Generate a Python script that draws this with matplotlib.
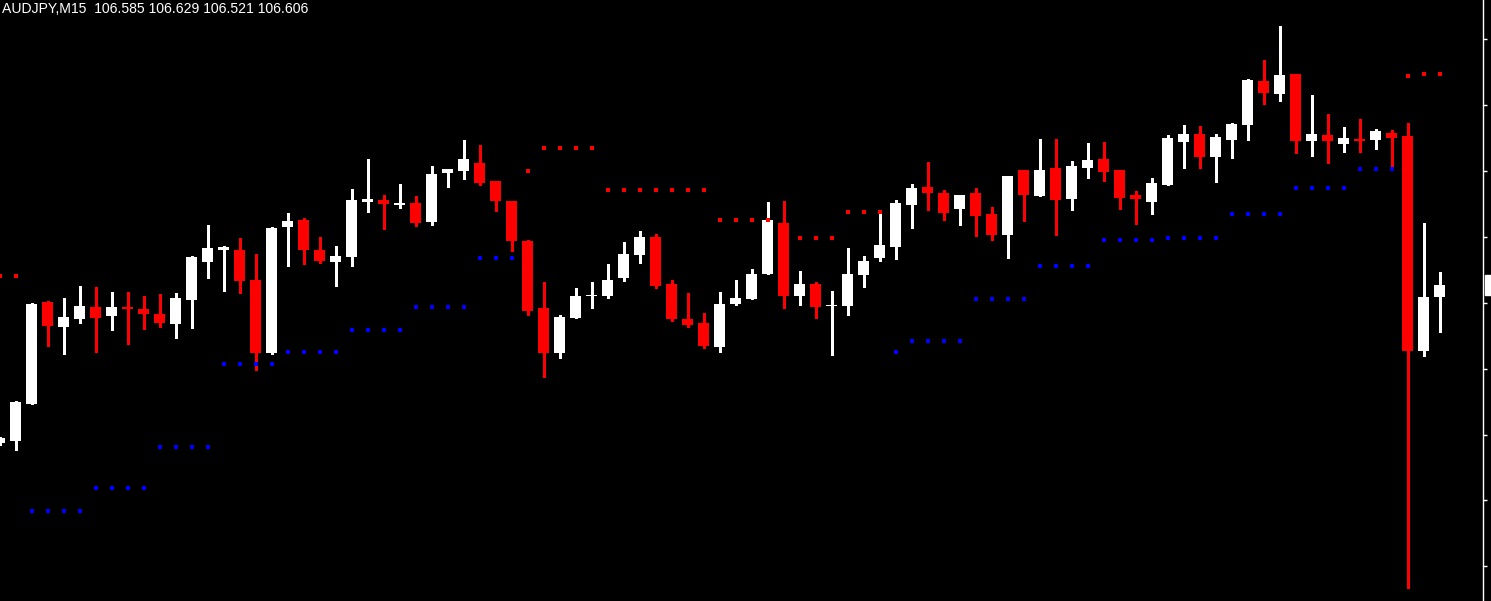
import numpy as np
import matplotlib.pyplot as plt

# --- dados: AUDJPY M15, 91 candles (o primeiro fica cortado na borda esquerda) ---
opens = [
    106.318, 106.322, 106.389, 106.575, 106.530, 106.544, 106.566, 106.550, 106.566, 106.562,
    106.553, 106.535, 106.579, 106.648, 106.670, 106.670, 106.615, 106.482, 106.712, 106.724,
    106.670, 106.648, 106.657, 106.757, 106.761, 106.752, 106.755, 106.721, 106.810, 106.813,
    106.828, 106.795, 106.759, 106.686, 106.564, 106.482, 106.546, 106.586, 106.586, 106.619,
    106.661, 106.693, 106.608, 106.544, 106.537, 106.493, 106.571, 106.581, 106.626, 106.719,
    106.586, 106.608, 106.568, 106.568, 106.624, 106.655, 106.675, 106.752, 106.784, 106.773,
    106.744, 106.773, 106.735, 106.697, 106.815, 106.768, 106.819, 106.763, 106.819, 106.835,
    106.815, 106.770, 106.757, 106.788, 106.866, 106.881, 106.839, 106.870, 106.897, 106.977,
    106.954, 106.990, 106.868, 106.879, 106.863, 106.872, 106.870, 106.883, 106.877, 106.486,
    106.585,
]
highs = [
    106.329, 106.395, 106.573, 106.577, 106.582, 106.604, 106.602, 106.593, 106.593, 106.586,
    106.590, 106.591, 106.659, 106.715, 106.677, 106.692, 106.662, 106.712, 106.737, 106.728,
    106.693, 106.677, 106.781, 106.835, 106.770, 106.790, 106.768, 106.823, 106.817, 106.870,
    106.861, 106.795, 106.759, 106.688, 106.611, 106.551, 106.601, 106.611, 106.644, 106.684,
    106.704, 106.699, 106.615, 106.591, 106.555, 106.593, 106.615, 106.635, 106.757, 106.759,
    106.631, 106.611, 106.595, 106.673, 106.659, 106.739, 106.761, 106.790, 106.830, 106.779,
    106.770, 106.783, 106.748, 106.804, 106.815, 106.872, 106.872, 106.832, 106.864, 106.866,
    106.815, 106.777, 106.801, 106.879, 106.897, 106.895, 106.881, 106.901, 106.981, 107.016,
    107.077, 106.990, 106.952, 106.917, 106.894, 106.908, 106.890, 106.888, 106.901, 106.719,
    106.629,
]
lows = [
    106.315, 106.306, 106.389, 106.495, 106.480, 106.537, 106.484, 106.524, 106.499, 106.526,
    106.530, 106.510, 106.528, 106.619, 106.595, 106.591, 106.451, 106.480, 106.641, 106.644,
    106.646, 106.604, 106.641, 106.739, 106.708, 106.746, 106.713, 106.715, 106.784, 106.799,
    106.788, 106.741, 106.668, 106.551, 106.438, 106.473, 106.546, 106.564, 106.582, 106.613,
    106.646, 106.601, 106.540, 106.530, 106.491, 106.484, 106.570, 106.581, 106.626, 106.564,
    106.570, 106.546, 106.479, 106.551, 106.602, 106.650, 106.653, 106.710, 106.743, 106.724,
    106.715, 106.695, 106.688, 106.655, 106.722, 106.768, 106.697, 106.743, 106.801, 106.795,
    106.744, 106.717, 106.735, 106.788, 106.819, 106.819, 106.793, 106.837, 106.870, 106.935,
    106.941, 106.846, 106.841, 106.828, 106.848, 106.848, 106.854, 106.819, 106.055, 106.477,
    106.521,
]
closes = [
    106.327, 106.393, 106.571, 106.531, 106.548, 106.568, 106.546, 106.566, 106.562, 106.553,
    106.537, 106.582, 106.657, 106.673, 106.675, 106.613, 106.482, 106.710, 106.722, 106.670,
    106.650, 106.659, 106.761, 106.763, 106.753, 106.755, 106.719, 106.808, 106.817, 106.835,
    106.792, 106.759, 106.686, 106.559, 106.482, 106.548, 106.586, 106.586, 106.615, 106.662,
    106.693, 106.604, 106.544, 106.533, 106.495, 106.571, 106.582, 106.626, 106.724, 106.586,
    106.608, 106.566, 106.568, 106.626, 106.650, 106.679, 106.755, 106.783, 106.773, 106.737,
    106.770, 106.732, 106.697, 106.804, 106.770, 106.815, 106.761, 106.823, 106.834, 106.812,
    106.764, 106.763, 106.792, 106.874, 106.881, 106.839, 106.875, 106.899, 106.979, 106.955,
    106.988, 106.868, 106.881, 106.868, 106.874, 106.868, 106.886, 106.874, 106.486, 106.584,
    106.606,
]

nan = np.nan
# indicador: pontos vermelhos acima (stop de venda) e azuis abaixo (stop de compra)
upper_dots = (
    [106.622, 106.622] + [nan] * 31 + [106.813] + [106.855] * 4 + [106.780] * 7
    + [106.724] * 4 + [106.691] * 4 + [106.740] * 3 + [nan] * 32 + [106.987, 106.991, 106.991]
)
lower_dots = (
    [nan, nan] + [106.194] * 4 + [106.236] * 4 + [106.312] * 4 + [106.462] * 4
    + [106.484] * 4 + [106.524] * 4 + [106.567] * 4 + [106.655] * 3 + [nan] * 23
    + [106.485] + [106.505] * 4 + [106.580] * 4 + [106.640] * 4 + [106.689] * 4
    + [106.691] * 4 + [106.736] * 4 + [106.782] * 4 + [106.818] * 3 + [nan] * 3
)
price_ticks = [106.094, 106.214, 106.334, 106.454, 106.574, 106.694, 106.814, 106.934, 107.054]

SYMBOL = "AUDJPY,M15"
UP_COLOR = "white"
DOWN_COLOR = "#ff0000"

# --- figura ---
fig = plt.figure(figsize=(14.91, 6.01), dpi=100, facecolor="black")
ax = fig.add_axes([0, 0, 1483 / 1491, 1])
ax.set_facecolor("black")

o = np.array(opens)
h = np.array(highs)
l = np.array(lows)
c = np.array(closes)
x = np.arange(len(o)) - 1
colors = np.where(c >= o, UP_COLOR, DOWN_COLOR)

px = (107.125 - 106.031) / 601  # preço por pixel
ax.vlines(x, l, h, colors=colors, linewidth=1.0, antialiased=False, zorder=2)
body = np.maximum(np.abs(c - o), px)
ax.bar(x, body, bottom=np.minimum(o, c), width=11 / 16, color=colors,
       linewidth=0, antialiased=False, zorder=3)

ax.plot(x, upper_dots, "s", color="#ff0000", markersize=2.4, markeredgewidth=0,
        linestyle="none", antialiased=False, zorder=4)
ax.plot(x, lower_dots, "s", color="#0000ff", markersize=2.4, markeredgewidth=0,
        linestyle="none", antialiased=False, zorder=4)

ax.set_xlim(-15.5 / 16, (1483 - 15.5) / 16)
ax.set_ylim(106.031, 107.125)

for s in ["top", "bottom", "left"]:
    ax.spines[s].set_visible(False)
ax.spines["right"].set_color("white")
ax.spines["right"].set_linewidth(1.0)
ax.set_xticks([])
ax.yaxis.tick_right()
ax.set_yticks(price_ticks)
ax.tick_params(axis="y", colors="white", length=3, width=1, direction="out", labelright=False)

# etiqueta do preço atual (cortada na borda direita, só o fundo branco aparece)
ax.annotate(f"{closes[-1]:.3f}", xy=(1, closes[-1]), xycoords=("axes fraction", "data"),
            xytext=(3.5, 0), textcoords="offset points", va="center", ha="left",
            fontsize=9, color="white", annotation_clip=False,
            bbox=dict(boxstyle="square,pad=0.25", fc="white", ec="white"))

header = f"{SYMBOL}  {opens[-1]:.3f} {highs[-1]:.3f} {lows[-1]:.3f} {closes[-1]:.3f}"
fig.text(2 / 1491, 1 - 2 / 601, header, color="white", fontsize=10.1,
         family="Liberation Sans", ha="left", va="top")

fig.savefig("out.png", dpi=100, facecolor="black")
